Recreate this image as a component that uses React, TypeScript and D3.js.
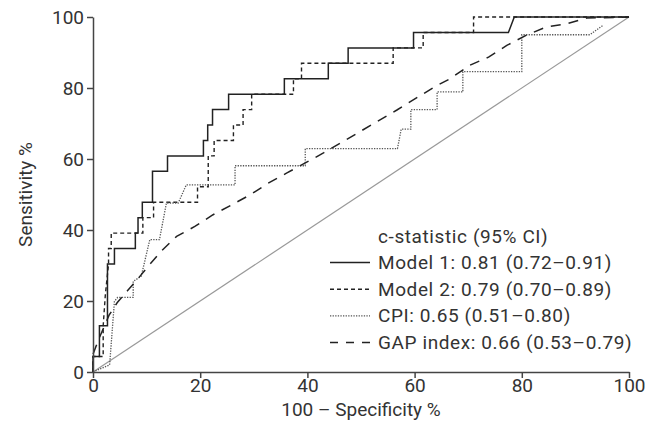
import React, { useRef, useEffect } from "react";
import * as d3 from "d3";

// ROC curves, values in % (x = 100 - specificity, y = sensitivity)
const model1X = [0, 0, 1.2, 1.2, 2.7, 2.7, 4.0, 4.0, 7.9, 7.9, 8.4, 8.4, 9.2, 9.2, 11.1, 11.1, 13.9, 13.9, 20.6, 20.6, 21.4, 21.4, 22.3, 22.3, 25.3, 25.3, 35.7, 35.7, 43.9, 43.9, 47.6, 47.6, 59.8, 59.8, 77.5, 78.6, 100];
const model1Y = [0, 4.35, 4.35, 13.04, 13.04, 30.43, 30.43, 34.78, 34.78, 39.13, 39.13, 43.48, 43.48, 47.83, 47.83, 56.52, 56.52, 60.87, 60.87, 65.22, 65.22, 69.57, 69.57, 73.91, 73.91, 78.26, 78.26, 82.61, 82.61, 86.96, 86.96, 91.3, 91.3, 95.65, 95.65, 100, 100];

const model2X = [0, 0, 1.9, 1.9, 2.3, 2.6, 2.9, 2.9, 3.4, 3.4, 9.3, 9.3, 11.3, 11.3, 19.5, 19.5, 21.5, 21.5, 22.6, 22.6, 26.2, 26.2, 28, 28, 29.6, 29.6, 37.4, 37.4, 38.9, 38.9, 56, 56, 61.6, 61.6, 71, 71, 100];
const model2Y = [0, 4.35, 4.35, 13.04, 21.7, 26.1, 30.43, 34.78, 34.78, 39.13, 39.13, 43.48, 43.48, 47.83, 47.83, 52.17, 52.17, 60.87, 60.87, 65.22, 65.22, 69.57, 69.57, 73.91, 73.91, 78.26, 78.26, 82.61, 82.61, 86.96, 86.96, 91.3, 91.3, 95.65, 95.65, 100, 100];

const cpiX = [0, 3.1, 4.0, 4.6, 7.5, 7.5, 9.0, 9.5, 10.6, 12.4, 13.7, 15.9, 17.4, 26.5, 26.5, 39.6, 39.6, 56.8, 57.5, 59.3, 59.3, 64.2, 64.2, 69, 69, 80, 80, 92.7, 95.2];
const cpiY = [0, 2, 19.9, 21, 21, 25.5, 27, 30.2, 37.3, 37.3, 47.6, 47.6, 52.7, 52.7, 58.1, 58.1, 62.9, 62.9, 68.4, 68.4, 73.9, 73.9, 78.9, 78.9, 84.6, 84.6, 95, 95, 97.7];

const gapX = [0, 0, 1, 2, 3, 4.5, 6.5, 8.5, 10.3, 12.7, 15.6, 19, 22.4, 25.9, 29.3, 32.7, 36.1, 43, 49.8, 56.7, 63.8, 66.6, 70.3, 73.8, 77.2, 80.9, 84.6, 88.4, 92.1, 100];
const gapY = [0, 5, 9, 12.5, 16, 19.5, 23, 26.5, 29.8, 34, 38.2, 41, 44.3, 47.1, 49.9, 53.2, 56, 61.7, 67.7, 73.8, 80.4, 82.6, 86.4, 88.7, 92, 94.9, 97.2, 98.1, 99.7, 100];

const ticks = [0, 20, 40, 60, 80, 100];

const legendTitle = "c-statistic (95% CI)";
const legendLabels = [
  "Model 1: 0.81 (0.72–0.91)",
  "Model 2: 0.79 (0.70–0.89)",
  "CPI: 0.65 (0.51–0.80)",
  "GAP index: 0.66 (0.53–0.79)",
];

const series = [
  { x: model1X, y: model1Y, dash: "none", width: 1.5, color: "#222" },
  { x: model2X, y: model2Y, dash: "4 3", width: 1.4, color: "#222" },
  { x: cpiX, y: cpiY, dash: "1.3 1.3", width: 1.3, color: "#555" },
  { x: gapX, y: gapY, dash: "10 8", width: 1.5, color: "#222" },
];
const legendDash = ["none", "4 3", "1.3 1.3", "8 8"];

const width = 660;
const height = 436;
const marginLeft = 93;
const marginRight = 31;
const marginTop = 17;
const marginBottom = 64;
const font = "Roboto, 'DejaVu Sans', sans-serif";
const fontSize = 19;
const textColor = "#333";

export default function App() {
  const gx = useRef<SVGGElement>(null);
  const gy = useRef<SVGGElement>(null);

  const x = d3.scaleLinear().domain([0, 100]).range([marginLeft, width - marginRight]);
  const y = d3.scaleLinear().domain([0, 100]).range([height - marginBottom, marginTop]);

  const pathFor = (xs: number[], ys: number[]) =>
    d3
      .line<number>()
      .x((d) => x(xs[d]))
      .y((d) => y(ys[d]))(d3.range(xs.length)) as string;

  useEffect(() => {
    const ax = d3.select(gx.current!);
    ax.call(d3.axisBottom(x).tickValues(ticks).tickSize(6).tickSizeOuter(0).tickPadding(1));
    ax.select(".domain").attr("stroke", "#444").attr("stroke-width", 1.5);
    ax.selectAll(".tick line").attr("stroke", "#444").attr("stroke-width", 1.5);
    ax.selectAll(".tick text")
      .attr("fill", textColor)
      .style("font-family", font)
      .style("font-size", `${fontSize}px`);

    const ay = d3.select(gy.current!);
    ay.call(d3.axisLeft(y).tickValues(ticks).tickSize(6).tickSizeOuter(0).tickPadding(3));
    ay.select(".domain").attr("stroke", "#444").attr("stroke-width", 1.5);
    ay.selectAll(".tick line").attr("stroke", "#444").attr("stroke-width", 1.5);
    ay.selectAll(".tick text")
      .attr("fill", textColor)
      .style("font-family", font)
      .style("font-size", `${fontSize}px`);
  }, []);

  const legX = 330;
  const legY = 236;
  const legStep = 26.6;

  return (
    <svg
      width={width}
      height={height}
      style={{ position: "absolute", left: 0, top: 0, background: "#fff" }}
    >
      {/* reference diagonal */}
      <line x1={x(0)} y1={y(0)} x2={x(100)} y2={y(100)} stroke="#999" strokeWidth={1.2} />

      {series.map((s, i) => (
        <path
          key={i}
          d={pathFor(s.x, s.y)}
          fill="none"
          stroke={s.color}
          strokeWidth={s.width}
          strokeDasharray={s.dash}
        />
      ))}

      <g ref={gx} transform={`translate(0,${height - marginBottom})`} />
      <g ref={gy} transform={`translate(${marginLeft},0)`} />

      <text
        x={(x(0) + x(100)) / 2}
        y={416}
        textAnchor="middle"
        fill={textColor}
        style={{ fontFamily: font, fontSize }}
      >
        100 – Specificity %
      </text>
      <text
        transform={`translate(32,${(y(0) + y(100)) / 2}) rotate(-90)`}
        textAnchor="middle"
        fill={textColor}
        style={{ fontFamily: font, fontSize }}
      >
        Sensitivity %
      </text>

      {/* legend */}
      <g style={{ fontFamily: font, fontSize, letterSpacing: 0.6 }} fill={textColor}>
        <text x={legX + 48} y={legY} dy="0.35em">
          {legendTitle}
        </text>
        {legendLabels.map((lab, i) => {
          const yy = legY + legStep * (i + 1);
          return (
            <g key={lab}>
              <line
                x1={legX}
                x2={legX + 40}
                y1={yy}
                y2={yy}
                stroke={series[i].color}
                strokeWidth={series[i].width}
                strokeDasharray={legendDash[i]}
              />
              <text x={legX + 48} y={yy} dy="0.35em">
                {lab}
              </text>
            </g>
          );
        })}
      </g>
    </svg>
  );
}
